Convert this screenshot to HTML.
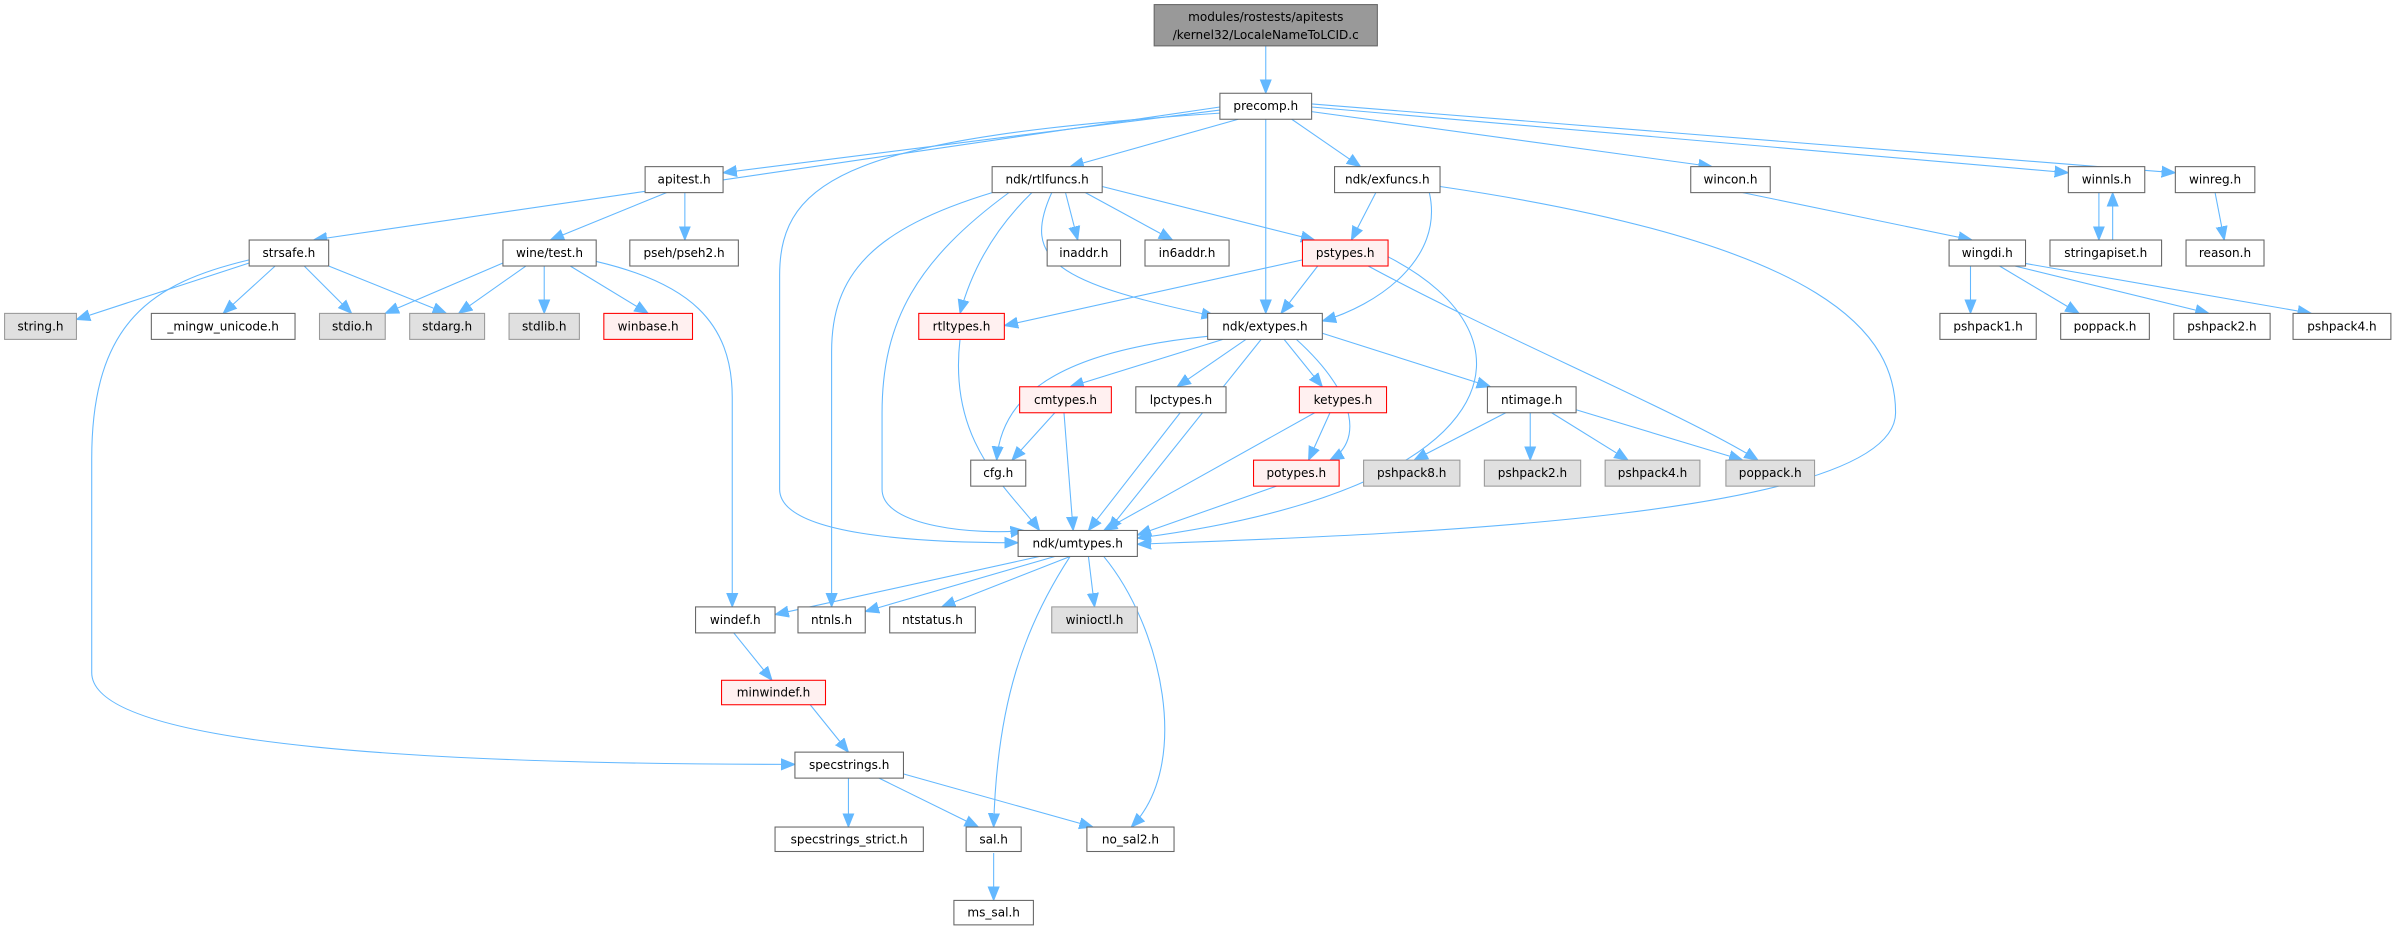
<!DOCTYPE html>
<html><head><meta charset="utf-8"><style>
html,body{margin:0;padding:0;background:#fff;}
svg{display:block}
text{font-family:"DejaVu Sans","Liberation Sans",sans-serif;font-size:7.9px;fill:#000;text-anchor:middle;dominant-baseline:central}
.b{fill:#fff;stroke:#666;stroke-width:0.7}
.r{fill:#fff0f0;stroke:#f00;stroke-width:0.7}
.g{fill:#e0e0e0;stroke:#999;stroke-width:0.7}
.m{fill:#999;stroke:#666;stroke-width:0.7}
path{fill:none;stroke:#63b8ff;stroke-width:0.7;marker-end:url(#a)}
</style></head><body>
<svg width="2397" height="931" viewBox="0 0 1568 609" xmlns="http://www.w3.org/2000/svg">
<defs><marker id="a" viewBox="0 0 10 10" refX="10" refY="5" markerWidth="9" markerHeight="9" markerUnits="userSpaceOnUse" orient="auto"><path d="M0,1 L10,5 L0,9 z" style="fill:#63b8ff;stroke:#63b8ff;marker-end:none"/></marker></defs>
<g>
<path d="M828,30 L828,61"/>
<path d="M798,70 L205,157"/>
<path d="M798,72 L473,113"/>
<path d="M810,78 L700,109"/>
<path d="M798,74 C560,90 510,115 510,180 L510,320 C510,350 600,355 666,355"/>
<path d="M828,78 L828,205"/>
<path d="M845,78 L890,109"/>
<path d="M858,73 L1120,109"/>
<path d="M858,70 L1353,113"/>
<path d="M858,68 L1423,113"/>
<path d="M697,126 L705,157"/>
<path d="M710,126 L767,157"/>
<path d="M721,122 L860,157"/>
<path d="M675,126 Q640,160 628,205"/>
<path d="M688,126 C668,170 690,185 795,207"/>
<path d="M660,126 C600,170 577,210 577,270 L577,320 C577,345 640,350 670,347"/>
<path d="M649,126 C570,150 544,180 544,230 L544,397"/>
<path d="M900,126 L884,157"/>
<path d="M935,126 C945,170 900,200 865,210"/>
<path d="M942,122 C1200,160 1240,220 1240,270 C1240,340 900,350 744,356"/>
<path d="M1140,126 L1290,157"/>
<path d="M1373,126 L1373,157"/>
<path d="M1382,157 L1382,126"/>
<path d="M1449,126 L1455,157"/>
<path d="M1289,174 L1289,205"/>
<path d="M1308,174 L1360,205"/>
<path d="M1318,174 L1445,205"/>
<path d="M1323,172 L1512,205"/>
<path d="M163,172 L50,209"/>
<path d="M180,174 L146,205"/>
<path d="M199,174 L230,205"/>
<path d="M215,174 L292,205"/>
<path d="M163,170 C100,185 60,210 60,300 L60,440 C60,490 300,500 520,500"/>
<path d="M329,172 L252,205"/>
<path d="M344,174 L300,205"/>
<path d="M356,174 L356,205"/>
<path d="M373,174 L424,205"/>
<path d="M390,171 C450,185 479,210 479,260 L479,397"/>
<path d="M436,126 L360,157"/>
<path d="M448,126 L448,157"/>
<path d="M852,170 L657,213"/>
<path d="M862,174 L838,205"/>
<path d="M895,174 C980,220 1100,270 1150,301"/>
<path d="M908,168 C1010,220 990,320 744,352"/>
<path d="M628,222 C620,290 660,320 680,347"/>
<path d="M800,222 L700,253"/>
<path d="M815,222 L770,253"/>
<path d="M840,222 L865,253"/>
<path d="M865,218 L975,253"/>
<path d="M790,220 C690,230 655,260 652,301"/>
<path d="M848,222 C890,260 890,290 870,301"/>
<path d="M825,222 L725,347"/>
<path d="M690,270 L662,301"/>
<path d="M696,270 L702,347"/>
<path d="M772,270 L712,347"/>
<path d="M870,270 L856,301"/>
<path d="M860,270 L722,347"/>
<path d="M835,318 L744,350"/>
<path d="M985,270 L925,301"/>
<path d="M1001,270 L1001,301"/>
<path d="M1015,270 L1065,301"/>
<path d="M1031,268 L1140,301"/>
<path d="M680,364 L507,402"/>
<path d="M690,364 L566,400"/>
<path d="M700,364 L616,397"/>
<path d="M712,364 L716,397"/>
<path d="M700,364 C670,410 652,460 650,541"/>
<path d="M722,364 C760,410 780,500 740,541"/>
<path d="M480,414 L505,445"/>
<path d="M530,461 L555,492"/>
<path d="M555,509 L555,541"/>
<path d="M575,509 L640,541"/>
<path d="M590,506 L715,541"/>
<path d="M650,558 L650,589"/>
</g>
<rect class="m" x="755" y="3" width="146" height="27"/><text x="828" y="11">modules/rostests/apitests</text><text x="828" y="23">/kernel32/LocaleNameToLCID.c</text>
<rect class="b" x="798" y="61" width="60" height="17"/><text x="828" y="69.5">precomp.h</text>
<rect class="b" x="422" y="109" width="51" height="17"/><text x="447.5" y="117.5">apitest.h</text>
<rect class="b" x="649" y="109" width="72" height="17"/><text x="685" y="117.5">ndk/rtlfuncs.h</text>
<rect class="b" x="873" y="109" width="69" height="17"/><text x="907.5" y="117.5">ndk/exfuncs.h</text>
<rect class="b" x="1106" y="109" width="52" height="17"/><text x="1132" y="117.5">wincon.h</text>
<rect class="b" x="1353" y="109" width="50" height="17"/><text x="1378" y="117.5">winnls.h</text>
<rect class="b" x="1423" y="109" width="52" height="17"/><text x="1449" y="117.5">winreg.h</text>
<rect class="b" x="163" y="157" width="52" height="17"/><text x="189" y="165.5">strsafe.h</text>
<rect class="b" x="329" y="157" width="61" height="17"/><text x="359.5" y="165.5">wine/test.h</text>
<rect class="b" x="412" y="157" width="71" height="17"/><text x="447.5" y="165.5">pseh/pseh2.h</text>
<rect class="b" x="685" y="157" width="48" height="17"/><text x="709" y="165.5">inaddr.h</text>
<rect class="b" x="749" y="157" width="55" height="17"/><text x="776.5" y="165.5">in6addr.h</text>
<rect class="r" x="852" y="157" width="56" height="17"/><text x="880" y="165.5">pstypes.h</text>
<rect class="b" x="1275" y="157" width="50" height="17"/><text x="1300" y="165.5">wingdi.h</text>
<rect class="b" x="1341" y="157" width="73" height="17"/><text x="1377.5" y="165.5">stringapiset.h</text>
<rect class="b" x="1430" y="157" width="51" height="17"/><text x="1455.5" y="165.5">reason.h</text>
<rect class="g" x="3" y="205" width="47" height="17"/><text x="26.5" y="213.5">string.h</text>
<rect class="b" x="99" y="205" width="94" height="17"/><text x="146" y="213.5">_mingw_unicode.h</text>
<rect class="g" x="209" y="205" width="43" height="17"/><text x="230.5" y="213.5">stdio.h</text>
<rect class="g" x="268" y="205" width="49" height="17"/><text x="292.5" y="213.5">stdarg.h</text>
<rect class="g" x="333" y="205" width="46" height="17"/><text x="356" y="213.5">stdlib.h</text>
<rect class="r" x="395" y="205" width="58" height="17"/><text x="424" y="213.5">winbase.h</text>
<rect class="r" x="601" y="205" width="56" height="17"/><text x="629" y="213.5">rtltypes.h</text>
<rect class="b" x="790" y="205" width="75" height="17"/><text x="827.5" y="213.5">ndk/extypes.h</text>
<rect class="b" x="1269" y="205" width="63" height="17"/><text x="1300.5" y="213.5">pshpack1.h</text>
<rect class="b" x="1348" y="205" width="58" height="17"/><text x="1377" y="213.5">poppack.h</text>
<rect class="b" x="1422" y="205" width="63" height="17"/><text x="1453.5" y="213.5">pshpack2.h</text>
<rect class="b" x="1500" y="205" width="64" height="17"/><text x="1532" y="213.5">pshpack4.h</text>
<rect class="r" x="667" y="253" width="60" height="17"/><text x="697" y="261.5">cmtypes.h</text>
<rect class="b" x="743" y="253" width="59" height="17"/><text x="772.5" y="261.5">lpctypes.h</text>
<rect class="r" x="850" y="253" width="57" height="17"/><text x="878.5" y="261.5">ketypes.h</text>
<rect class="b" x="973" y="253" width="58" height="17"/><text x="1002" y="261.5">ntimage.h</text>
<rect class="b" x="635" y="301" width="36" height="17"/><text x="653" y="309.5">cfg.h</text>
<rect class="r" x="820" y="301" width="56" height="17"/><text x="848" y="309.5">potypes.h</text>
<rect class="g" x="892" y="301" width="63" height="17"/><text x="923.5" y="309.5">pshpack8.h</text>
<rect class="g" x="971" y="301" width="63" height="17"/><text x="1002.5" y="309.5">pshpack2.h</text>
<rect class="g" x="1050" y="301" width="62" height="17"/><text x="1081" y="309.5">pshpack4.h</text>
<rect class="g" x="1129" y="301" width="58" height="17"/><text x="1158" y="309.5">poppack.h</text>
<rect class="b" x="666" y="347" width="78" height="17"/><text x="705" y="355.5">ndk/umtypes.h</text>
<rect class="b" x="455" y="397" width="52" height="17"/><text x="481" y="405.5">windef.h</text>
<rect class="b" x="522" y="397" width="44" height="17"/><text x="544" y="405.5">ntnls.h</text>
<rect class="b" x="582" y="397" width="56" height="17"/><text x="610" y="405.5">ntstatus.h</text>
<rect class="g" x="688" y="397" width="56" height="17"/><text x="716" y="405.5">winioctl.h</text>
<rect class="r" x="472" y="445" width="68" height="16"/><text x="506" y="453">minwindef.h</text>
<rect class="b" x="520" y="492" width="71" height="17"/><text x="555.5" y="500.5">specstrings.h</text>
<rect class="b" x="507" y="541" width="97" height="16"/><text x="555.5" y="549">specstrings_strict.h</text>
<rect class="b" x="632" y="541" width="36" height="16"/><text x="650" y="549">sal.h</text>
<rect class="b" x="711" y="541" width="57" height="16"/><text x="739.5" y="549">no_sal2.h</text>
<rect class="b" x="624" y="589" width="52" height="16"/><text x="650" y="597">ms_sal.h</text>
</svg>
</body></html>
